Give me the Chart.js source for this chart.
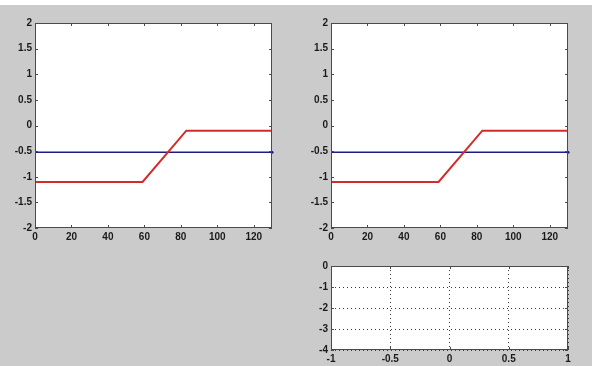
<!DOCTYPE html>
<html>
<head>
<meta charset="utf-8">
<script src="https://cdn.jsdelivr.net/npm/chart.js@4.4.0/dist/chart.umd.min.js"></script>
<style>
  html, body { margin: 0; padding: 0; }
  body { width: 592px; height: 366px; background: #cbcbcb; position: relative; overflow: hidden; }
  .strip { position: absolute; left: 0; top: 0; width: 592px; height: 5px; background: #fff; }
  .box { position: absolute; }
  .box canvas { display: block; }
</style>
</head>
<body>
<div class="strip"></div>
<div class="box" style="left:0;top:0;width:296px;height:250px"><canvas id="c1"></canvas></div>
<div class="box" style="left:296px;top:0;width:296px;height:250px"><canvas id="c2"></canvas></div>
<div class="box" style="left:296px;top:250px;width:296px;height:116px"><canvas id="c3"></canvas></div>
<script>
// step line (red) and flat line (blue), same in both top panels
const redX = [0, 59, 83, 130]
const redY = [-1.1, -1.1, -0.1, -0.1]
const blueX = [0, 130]
const blueY = [-0.52, -0.52]

const topXTicks = [0, 20, 40, 60, 80, 100, 120]
const topYTicks = [-2, -1.5, -1, -0.5, 0, 0.5, 1, 1.5, 2]
const lowXTicks = [-1, -0.5, 0, 0.5, 1]
const lowYTicks = [-4, -3, -2, -1, 0]

const tickFont = { family: 'Arial, "Liberation Sans", sans-serif', size: 10, weight: 'bold' }
const tickColor = '#1a1a1a'

const toPts = (xs, ys) => xs.map((x, i) => ({ x, y: ys[i] }))

// matlab style box with inward tick marks
const framePlugin = {
  id: 'frame',
  afterDraw(chart) {
    const { ctx, chartArea: a, scales } = chart
    ctx.save()
    ctx.strokeStyle = '#4a4a4a'
    ctx.lineWidth = 1
    ctx.beginPath()
    scales.x.ticks.forEach(t => {
      const px = Math.round(scales.x.getPixelForValue(t.value)) + 0.5
      ctx.moveTo(px, a.bottom); ctx.lineTo(px, a.bottom - 3)
      ctx.moveTo(px, a.top); ctx.lineTo(px, a.top + 3)
    })
    scales.y.ticks.forEach(t => {
      const py = Math.round(scales.y.getPixelForValue(t.value)) + 0.5
      ctx.moveTo(a.left, py); ctx.lineTo(a.left + 3, py)
      ctx.moveTo(a.right, py); ctx.lineTo(a.right - 3, py)
    })
    ctx.stroke()
    ctx.strokeRect(a.left + 0.5, a.top + 0.5, a.right - a.left - 1, a.bottom - a.top - 1)
    ctx.restore()
  }
}

const bgPlugin = {
  id: 'plotbg',
  beforeDraw(chart) {
    const { ctx, chartArea: a } = chart
    ctx.save()
    ctx.fillStyle = '#ffffff'
    ctx.fillRect(a.left, a.top, a.right - a.left, a.bottom - a.top)
    ctx.restore()
  }
}

function fmt(v) { return String(v) }

function axisOpts(min, max, ticks, size, isX, grid) {
  return {
    type: 'linear',
    min, max,
    afterBuildTicks(scale) { scale.ticks = ticks.map(v => ({ value: v })) },
    afterFit(scale) { if (isX) scale.height = size; else scale.width = size },
    ticks: {
      color: tickColor, font: tickFont, padding: 3,
      maxRotation: 0, autoSkip: false,
      callback: fmt
    },
    grid: grid
      ? { display: true, drawTicks: false, color: '#3a3a3a', lineWidth: 1 }
      : { display: false, drawTicks: false },
    border: grid ? { display: false, dash: [1, 3] } : { display: false }
  }
}

function topChart(id) {
  return new Chart(document.getElementById(id), {
    type: 'line',
    data: {
      datasets: [
        {
          data: toPts(redX, redY),
          borderColor: '#d22b2b',
          borderWidth: 2,
          pointRadius: 0,
          tension: 0
        },
        {
          data: toPts(blueX, blueY),
          borderColor: '#1c1c86',
          borderWidth: 1.5,
          pointRadius: [0, 1.5],
          pointBackgroundColor: '#1c1c86',
          pointBorderWidth: 0,
          tension: 0
        }
      ]
    },
    options: {
      responsive: false,
      animation: false,
      clip: false,
      layout: { padding: { top: 23, right: 24, left: 0, bottom: 0 } },
      scales: {
        x: axisOpts(0, 130, topXTicks, 22, true, false),
        y: axisOpts(-2, 2, topYTicks, 35, false, false)
      },
      plugins: { legend: { display: false }, tooltip: { enabled: false } }
    },
    plugins: [bgPlugin, framePlugin]
  })
}

function sizeCanvas(id, w, h) {
  const c = document.getElementById(id)
  c.width = w; c.height = h
  c.style.width = w + 'px'; c.style.height = h + 'px'
}

sizeCanvas('c1', 296, 250)
sizeCanvas('c2', 296, 250)
sizeCanvas('c3', 296, 116)

topChart('c1')
topChart('c2')

new Chart(document.getElementById('c3'), {
  type: 'line',
  data: { datasets: [{ data: [] }] },
  options: {
    responsive: false,
    animation: false,
    layout: { padding: { top: 16, right: 24, left: 0, bottom: 0 } },
    scales: {
      x: axisOpts(-1, 1, lowXTicks, 16, true, true),
      y: axisOpts(-4, 0, lowYTicks, 35, false, true)
    },
    plugins: { legend: { display: false }, tooltip: { enabled: false } }
  },
  plugins: [bgPlugin, framePlugin]
})
</script>
</body>
</html>
